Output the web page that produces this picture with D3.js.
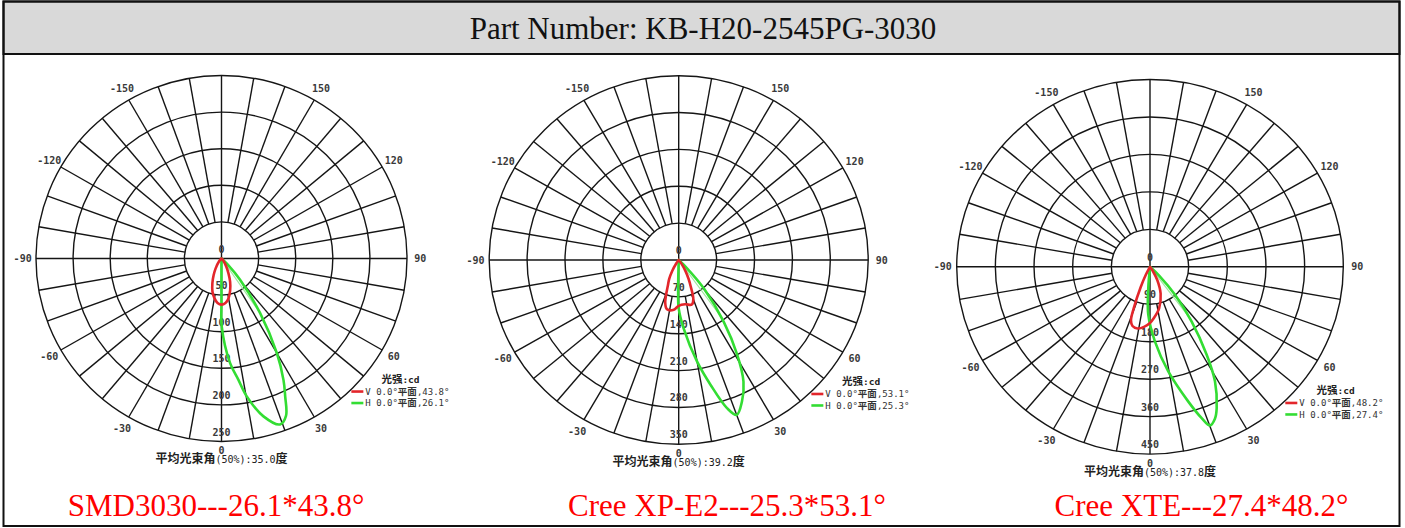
<!DOCTYPE html>
<html><head><meta charset="utf-8">
<script src="https://cdn.jsdelivr.net/npm/d3@7"></script>
<style>body{margin:0;background:#fff;overflow:hidden}</style>
</head><body>
<svg id="c" width="1405" height="528"></svg>
<script>
// ---------- data ----------
const titleText = "Part Number: KB-H20-2545PG-3030";
const chartNames = ["SMD3030---26.1*43.8°", "Cree XP-E2---25.3*53.1°", "Cree XTE---27.4*48.2°"];
const ringTicks1 = [0, 50, 100, 150, 200, 250];
const ringTicks2 = [0, 70, 140, 210, 280, 350];
const ringTicks3 = [0, 90, 180, 270, 360, 450];
const angleTicks = [-150, -120, -90, -60, -30, 0, 30, 60, 90, 120, 150];
const vBeam = ["43.8", "53.1", "48.2"];
const hBeam = ["26.1", "25.3", "27.4"];
const avgBeam = ["35.0", "39.2", "37.8"];
// [angle (deg, 0 = down, + = right), intensity (cd)]
const smdV = [[-45,0],[-40,5],[-30,16],[-25,25],[-20,36],[-15,47],[-10,55],[-5,61],[0,63],[5,61],[10,55],[15,45],[20,34],[25,22],[30,13],[40,4],[48,0]];
const smdH = [[-1,0],[0,60],[0.2,93],[4.6,143],[7.8,167],[10.2,191],[14.7,223],[19.2,240],[22,232],[24.5,207],[26.7,186],[30,149],[34.9,91],[40.7,38],[45,12],[48,0]];
const xpeV = [[-40,0],[-35,8],[-30,24],[-26,40],[-23,50],[-17,85],[-13,96],[-5.5,95],[0,87],[8,85],[16,88],[20,79],[24,54],[27,40],[31,24],[36,8],[40,0]];
const xpeH = [[-2,0],[-1,60],[0,92],[4,130],[10,196],[14,245],[17.6,295],[20,313],[23.5,293],[27.4,260],[31,210],[35.3,144],[40.7,71],[44.5,22],[47,0]];
const xteV = [[-32,0],[-27,22],[-24,53],[-21,103],[-19,136],[-16,148],[-11,151],[-5.5,145],[0,135],[4,124],[12,102],[21,69],[28,36],[33,12],[36,0]];
const xteH = [[-6,0],[-4.5,51],[-2,115],[3.7,180],[9.6,255],[15.4,336],[18.3,383],[20.1,406],[22.5,395],[24.6,373],[28.8,314],[32,249],[36.4,163],[40.9,89],[45,30],[48,0]];
const guideH = [[35,91],[36,138],[37,155]];

// ---------- layout ----------
const W = 1405, H = 528;
const charts = [
  {cx:221.5, cy:258.5, rx:185.5, ry:183, ticks:ringTicks1, v:smdV, h:smdH, nameX:216},
  {cx:678.7, cy:260,   rx:189.5, ry:184.3, ticks:ringTicks2, v:xpeV, h:xpeH, nameX:727},
  {cx:1150,  cy:266.8, rx:193.3, ry:187.3, ticks:ringTicks3, v:xteV, h:xteH, nameX:1201.5}
];
const RED = "#e3262b", GREEN = "#33dd33";
const mono = "'DejaVu Sans Mono', monospace";
const cjk = "'Noto Sans CJK SC', sans-serif";
const serif = "'Liberation Serif', 'Times New Roman', serif";

const svg = d3.select("#c");
svg.append("rect").attr("width", W).attr("height", H).attr("fill", "#fff");

// header
svg.append("rect").attr("x", 3.5).attr("y", 1.5).attr("width", 1396).attr("height", 52.5)
  .attr("fill", "#d9d9d9").attr("stroke", "#111").attr("stroke-width", 2);
svg.append("text").attr("x", 703).attr("y", 38.5).attr("text-anchor", "middle")
  .attr("font-family", serif).attr("font-size", 31).attr("fill", "#111").text(titleText);

charts.forEach((c, i) => {
  const max = c.ticks[c.ticks.length - 1];
  const r = d3.scaleLinear().domain([0, max]).range([0, 1]);
  const a = d3.scaleLinear().domain([0, 180]).range([0, Math.PI]);
  const px = (ang, v) => c.cx + c.rx * r(v) * Math.sin(a(ang));
  const py = (ang, v) => c.cy + c.ry * r(v) * Math.cos(a(ang));
  const g = svg.append("g");

  // rings
  c.ticks.slice(1).forEach(t => {
    g.append("ellipse").attr("cx", c.cx).attr("cy", c.cy)
      .attr("rx", c.rx * r(t)).attr("ry", c.ry * r(t))
      .attr("fill", "none").attr("stroke", "#151515").attr("stroke-width", 1.4);
  });
  // spokes
  d3.range(-170, 181, 10).forEach(ang => {
    const full = ang % 90 === 0;
    if (full && ang > 0) return;
    const from = full ? max : c.ticks[1];
    const fa = full ? ang + 180 : ang;
    g.append("line")
      .attr("x1", px(fa, from)).attr("y1", py(fa, from))
      .attr("x2", px(ang, max)).attr("y2", py(ang, max))
      .attr("stroke", "#151515").attr("stroke-width", 1.4);
  });
  // ring labels
  c.ticks.forEach(t => {
    g.append("text").attr("x", c.cx).attr("y", py(0, t) - 6)
      .attr("text-anchor", "middle").attr("font-family", mono).attr("font-weight", "bold")
      .attr("font-size", 10).attr("fill", "#3a3a3a").text(t);
  });
  // angle labels
  angleTicks.forEach(t => {
    const k = t === 0 ? 1.05 : 1.072;
    g.append("text").attr("x", px(t, max * k)).attr("y", py(t, max * k))
      .attr("text-anchor", "middle").attr("dominant-baseline", "central")
      .attr("font-family", mono).attr("font-weight", "bold").attr("font-size", 10)
      .attr("fill", "#3a3a3a").text(t);
  });

  // curves
  const line = d3.line().x(d => px(d[0], d[1])).y(d => py(d[0], d[1]))
    .curve(d3.curveCatmullRomClosed.alpha(0.5));
  const gd = guideH[i];
  g.append("line").attr("x1", c.cx).attr("y1", c.cy)
    .attr("x2", px(gd[0], gd[1])).attr("y2", py(gd[0], gd[1]))
    .attr("stroke", "#9ee89e").attr("stroke-width", 1.2);
  g.append("path").attr("d", line(c.h)).attr("fill", "none")
    .attr("stroke", GREEN).attr("stroke-width", 2.6).attr("stroke-linejoin", "round");
  g.append("path").attr("d", line(c.v)).attr("fill", "none")
    .attr("stroke", RED).attr("stroke-width", 2.6).attr("stroke-linejoin", "round");

  // legend
  const lx = c.cx + 0.70 * c.rx, ly = c.cy + 0.727 * c.ry;
  const lt = g.append("text").attr("x", c.cx + 0.862 * c.rx).attr("y", ly - 8.5)
    .attr("fill", "#222");
  lt.append("tspan").attr("font-family", cjk).attr("font-weight", "bold").attr("font-size", 10.5).text("光强");
  lt.append("tspan").attr("font-family", mono).attr("font-weight", "bold").attr("font-size", 9.5).text(":cd");
  [[RED, "V", vBeam[i]], [GREEN, "H", hBeam[i]]].forEach((d, j) => {
    const y = ly + j * 11.5;
    g.append("line").attr("x1", lx).attr("x2", lx + 12).attr("y1", y).attr("y2", y)
      .attr("stroke", d[0]).attr("stroke-width", 2.6);
    const t = g.append("text").attr("x", lx + 14).attr("y", y + 3.2).attr("fill", "#333");
    t.append("tspan").attr("font-family", mono).attr("font-size", 9).text(d[1] + " 0.0°");
    t.append("tspan").attr("font-family", cjk).attr("font-weight", "bold").attr("font-size", 9.5).text("平面");
    t.append("tspan").attr("font-family", mono).attr("font-size", 9).text("," + d[2] + "°");
  });

  // average beam caption
  const cap = g.append("text").attr("x", c.cx).attr("y", c.cy + 1.094 * c.ry + 4.5)
    .attr("text-anchor", "middle").attr("fill", "#222");
  cap.append("tspan").attr("font-family", cjk).attr("font-weight", "bold").attr("font-size", 12).text("平均光束角");
  cap.append("tspan").attr("font-family", mono).attr("font-size", 10).text("(50%):" + avgBeam[i]);
  cap.append("tspan").attr("font-family", cjk).attr("font-weight", "bold").attr("font-size", 12).text("度");

  // model label
  svg.append("text").attr("x", c.nameX).attr("y", 516).attr("text-anchor", "middle")
    .attr("font-family", serif).attr("font-size", 31).attr("fill", "#f00").text(chartNames[i]);
});

// outer frame
svg.append("rect").attr("x", 3.5).attr("y", 1.5).attr("width", 1396).attr("height", 524.5)
  .attr("fill", "none").attr("stroke", "#111").attr("stroke-width", 2);
</script>
</body></html>
